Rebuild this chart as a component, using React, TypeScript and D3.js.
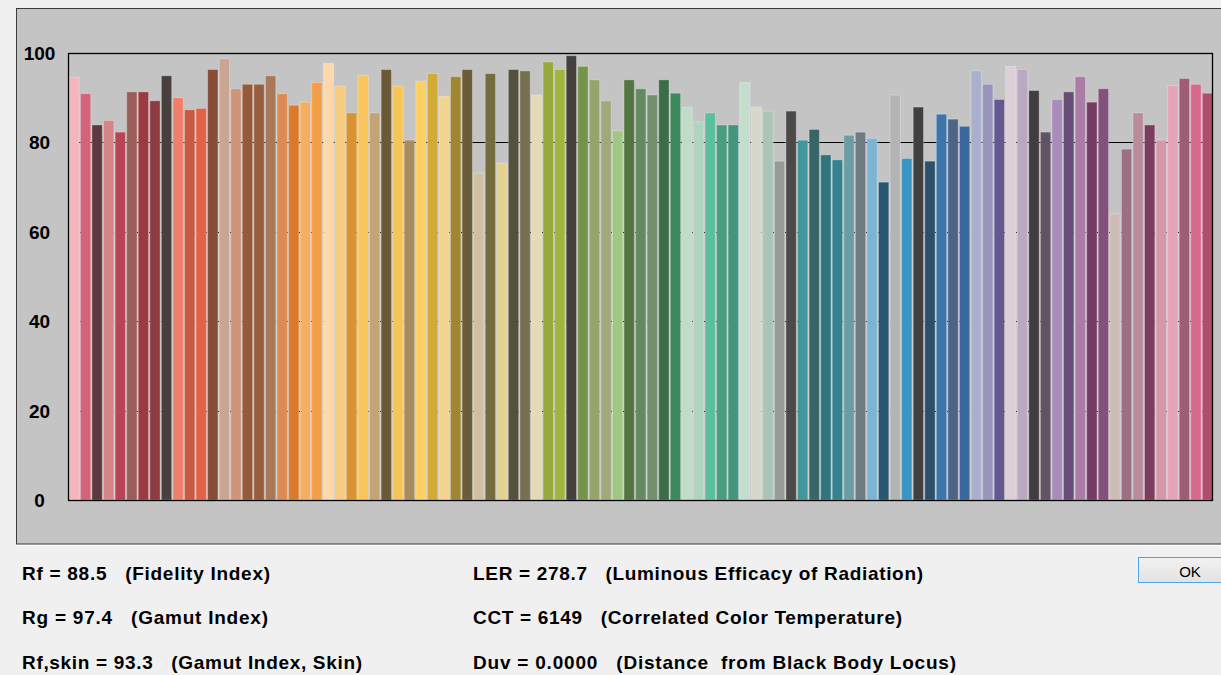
import * as d3 from "d3";

// TM-30 colour fidelity per CES sample (Rf,hj)
const rfValues = [
  94.6, 90.9, 83.9, 84.9, 82.3, 91.3, 91.3, 89.3, 94.9, 90.0,
  87.3, 87.6, 96.3, 98.7, 92.0, 93.0, 93.0, 94.9, 90.9, 88.3,
  89.0, 93.4, 97.7, 92.6, 86.6, 95.0, 86.6, 96.3, 92.6, 80.5,
  93.7, 95.4, 90.3, 94.7, 96.3, 73.1, 95.4, 75.4, 96.3, 96.0,
  90.6, 98.0, 96.3, 99.4, 97.0, 94.0, 89.3, 82.6, 94.0, 92.0,
  90.6, 94.0, 91.0, 87.9, 84.6, 86.6, 83.9, 83.9, 93.4, 87.9,
  87.0, 75.8, 87.0, 80.5, 82.9, 77.2, 76.1, 81.6, 82.3, 80.9,
  71.1, 90.6, 76.4, 87.9, 75.8, 86.3, 85.2, 83.6, 96.0, 93.0,
  89.6, 97.0, 96.3, 91.6, 82.3, 89.6, 91.3, 94.7, 89.0, 92.0,
  64.0, 78.5, 86.6, 83.9, 80.5, 92.7, 94.3, 93.0, 91.0,
];

// sample colours
const sampleColors = [
  "#f2b6bc", "#d4627a", "#5e3a3e", "#d78486", "#b94456", "#9a5e5a", "#9c3a42", "#8e3a42", "#48403c", "#f07e68",
  "#c85a42", "#e26246", "#884c36", "#c9a592", "#d09478", "#955a3a", "#985e3e", "#a87858", "#dc8c52", "#dc7a2c",
  "#f4b060", "#f49e46", "#fcd8aa", "#f8cc7e", "#dc922e", "#f8c45c", "#c4a472", "#6a5836", "#f8c456", "#a88c5e",
  "#fcd062", "#d4aa36", "#f4d48e", "#a08632", "#6a5c38", "#d0c0a2", "#746c3c", "#e4d292", "#54503e", "#747050",
  "#e4dab6", "#98a83a", "#a0b43e", "#44403e", "#74944a", "#94a46a", "#a0a87c", "#a0c882", "#547442", "#648a62",
  "#70906e", "#3c6c48", "#3c8a5c", "#c0dcc6", "#b0d4be", "#58c09e", "#4a9e7e", "#42967e", "#c4dece", "#d8d8ca",
  "#aac4b6", "#989c96", "#4c4a48", "#40989c", "#386666", "#30747e", "#34828e", "#6c9ca4", "#707c84", "#7cb4d4",
  "#285870", "#b4b4b4", "#3894c0", "#404040", "#2c506c", "#3c74ac", "#4c6488", "#3c68a0", "#a8b0cc", "#9894bc",
  "#645890", "#dcd0d6", "#b8a8c0", "#403c40", "#605464", "#a88cbc", "#684c78", "#ac7ca8", "#743c64", "#84507c",
  "#ccbcb4", "#9c7082", "#b88c9a", "#7c3c5e", "#d498a8", "#e4a4b6", "#a05c76", "#d8688c", "#b04c6c",
];

const sampleNames = rfValues.map((_, i) => `CES${String(i + 1).padStart(2, "0")}`);

const yTicks = [0, 20, 40, 60, 80, 100];

const leftLines = [
  { text: "Rf = 88.5   (Fidelity Index)", width: 248 },
  { text: "Rg = 97.4   (Gamut Index)", width: 246 },
  { text: "Rf,skin = 93.3   (Gamut Index, Skin)", width: 340 },
];
const rightLines = [
  { text: "LER = 278.7   (Luminous Efficacy of Radiation)", width: 450 },
  { text: "CCT = 6149   (Correlated Color Temperature)", width: 429 },
  { text: "Duv = 0.0000   (Distance  from Black Body Locus)", width: 483 },
];

export default function App() {
  const W = 1221;
  const H = 675;
  const plot = { left: 68, right: 1213, top: 53, bottom: 500 };

  const x = d3
    .scaleBand<string>()
    .domain(sampleNames)
    .range([plot.left + 0.5, plot.right])
    .paddingInner(0.11)
    .paddingOuter(0.03);

  const y = d3.scaleLinear().domain([0, 100]).range([plot.bottom, plot.top]);

  const font = "'Liberation Sans', Arial, sans-serif";
  const rowY = [580, 624, 669];

  return (
    <div style={{ position: "fixed", left: 0, top: 0, width: W, height: H, background: "#f0f0f0" }}>
      <svg width={W} height={H} style={{ display: "block" }}>
        <defs>
          <linearGradient id="btnGrad" x1="0" y1="0" x2="0" y2="1">
            <stop offset="0%" stopColor="#f2f2f2" />
            <stop offset="100%" stopColor="#e2e2e2" />
          </linearGradient>
        </defs>
        <rect width={W} height={H} fill="#f0f0f0" />

        {/* grey panel */}
        <rect x={16.5} y={8.5} width={W} height={535.5} fill="#c4c4c4" stroke="#3c3c3c" />
        <line x1={16} x2={W} y1={545.5} y2={545.5} stroke="#ffffff" />

        {/* grid lines behind bars */}
        {yTicks
          .filter((t) => t > 0 && t < 100)
          .map((t) => (
            <line
              key={t}
              x1={plot.left}
              x2={plot.right}
              y1={Math.round(y(t)) + 0.5}
              y2={Math.round(y(t)) + 0.5}
              stroke="#000"
              strokeWidth={1}
              strokeDasharray={t === 80 ? undefined : "1,2"}
            />
          ))}

        {/* bars */}
        {rfValues.map((v, i) => (
          <rect
            key={sampleNames[i]}
            x={x(sampleNames[i])}
            y={y(v)}
            width={x.bandwidth()}
            height={y(0) - y(v)}
            fill={sampleColors[i]}
            stroke="rgba(255,255,255,0.28)"
            strokeWidth={1}
          />
        ))}

        {/* frame */}
        <rect
          x={plot.left + 0.5}
          y={plot.top + 0.5}
          width={plot.right - plot.left - 1}
          height={plot.bottom - plot.top}
          fill="none"
          stroke="#000"
          strokeWidth={1.3}
        />

        {/* y tick labels */}
        {yTicks.map((t) => (
          <text
            key={t}
            x={39.5}
            y={y(t) + 7}
            textAnchor="middle"
            fontFamily={font}
            fontWeight="bold"
            fontSize={19}
            fill="#000"
          >
            {t}
          </text>
        ))}

        {/* summary text */}
        {leftLines.map((l, i) => (
          <text
            key={l.text}
            x={22}
            y={rowY[i]}
            fontFamily={font}
            fontWeight="bold"
            fontSize={19}
            fill="#000"
            textLength={l.width}
            lengthAdjust="spacing"
            style={{ whiteSpace: "pre" }}
          >
            {l.text}
          </text>
        ))}
        {rightLines.map((l, i) => (
          <text
            key={l.text}
            x={473}
            y={rowY[i]}
            fontFamily={font}
            fontWeight="bold"
            fontSize={19}
            fill="#000"
            textLength={l.width}
            lengthAdjust="spacing"
            style={{ whiteSpace: "pre" }}
          >
            {l.text}
          </text>
        ))}

        {/* OK button */}
        <rect x={1138.5} y={557.5} width={92} height={25} fill="url(#btnGrad)" stroke="#4ea6e8" strokeWidth={1} />
        <text x={1190} y={577} textAnchor="middle" fontFamily={font} fontSize={15} fill="#000">
          OK
        </text>
      </svg>
    </div>
  );
}
